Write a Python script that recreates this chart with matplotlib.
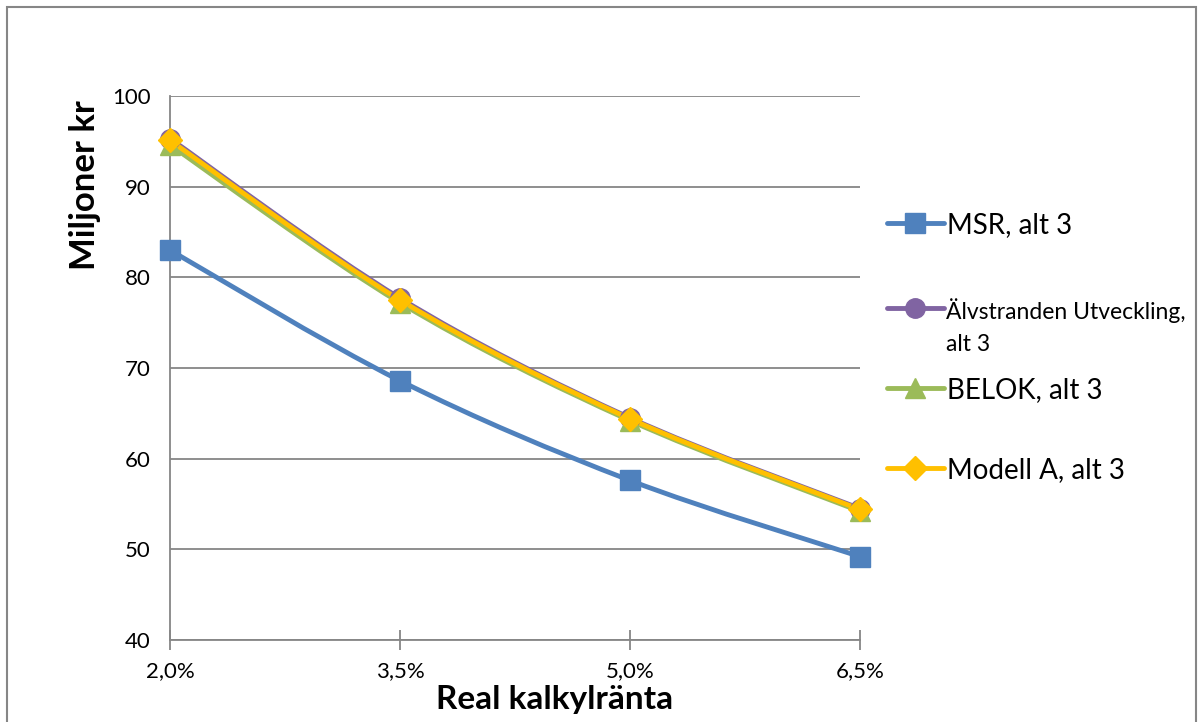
import numpy as np
import matplotlib
matplotlib.use("Agg")
import matplotlib.pyplot as plt
from matplotlib.path import Path
from matplotlib.patches import PathPatch, Rectangle
from matplotlib.lines import Line2D

plt.rcParams["font.family"] = ["Lato", "DejaVu Sans"]

# -----------------------------
# Data
# -----------------------------
x_labels = ["2,0%", "3,5%", "5,0%", "6,5%"]
msr = [83.0, 68.6, 57.6, 49.2]
alvstranden = [95.3, 77.7, 64.5, 54.5]
belok = [94.6, 77.2, 64.2, 54.2]
modell_a = [95.1, 77.5, 64.4, 54.4]

series = [
    ("MSR, alt 3", msr, "#4F81BD", "s", 14),
    ("Älvstranden Utveckling,\nalt 3", alvstranden, "#8064A2", "o", 14),
    ("BELOK, alt 3", belok, "#9BBB59", "^", 15),
    ("Modell A, alt 3", modell_a, "#FFC000", "D", 12),
]


# -----------------------------
# Smooth line (Catmull-Rom as cubic Bezier, like Excel)
# -----------------------------
def smooth_path(xs, ys):
    pts = np.column_stack([xs, ys]).astype(float)
    verts = [pts[0]]
    codes = [Path.MOVETO]
    n = len(pts)
    for i in range(n - 1):
        p0 = pts[i - 1] if i > 0 else pts[i]
        p1 = pts[i]
        p2 = pts[i + 1]
        p3 = pts[i + 2] if i + 2 < n else pts[i + 1]
        c1 = p1 + (p2 - p0) / 6.0
        c2 = p2 - (p3 - p1) / 6.0
        verts += [c1, c2, p2]
        codes += [Path.CURVE4] * 3
    return Path(verts, codes)


fig = plt.figure(figsize=(12.03, 7.22), dpi=100)
fig.patches.append(Rectangle((7 / 1203, -0.05), 1189 / 1203, 1.05 - 7 / 722,
                             transform=fig.transFigure, fill=False,
                             edgecolor="#868686", linewidth=1.5))

ax = fig.add_axes([170 / 1203, 1 - 640 / 722, 690 / 1203, 544 / 722])
xs = np.arange(len(x_labels))

for label, vals, color, marker, ms in series:
    patch = PathPatch(smooth_path(xs, vals), facecolor="none", edgecolor=color,
                      linewidth=3.5, capstyle="round", joinstyle="round",
                      zorder=3)
    ax.add_patch(patch)
    ax.plot(xs, vals, linestyle="none", marker=marker, markersize=ms,
            color=color, markeredgecolor=color, zorder=4, clip_on=False)

ax.set_xlim(0, 3)
ax.set_ylim(40, 100)
ax.set_yticks(range(40, 101, 10))
ax.set_xticks(xs)
ax.set_xticklabels(x_labels)
ax.yaxis.grid(True, color="#868686", linewidth=1.3)
ax.set_axisbelow(True)

for side in ["top", "right"]:
    ax.spines[side].set_visible(False)
for side in ["left", "bottom"]:
    ax.spines[side].set_color("#868686")
    ax.spines[side].set_linewidth(1.3)

ax.tick_params(axis="y", length=0, pad=14, labelsize=16)
ax.tick_params(axis="x", direction="inout", length=14, width=1.3,
               color="#868686", pad=8, labelsize=16)

ax.set_xlabel("Real kalkylränta", fontsize=24, fontweight="bold", va="center")
ax.xaxis.set_label_coords(385 / 690, -60 / 544)
ax.set_ylabel("Miljoner kr", fontsize=25, fontweight="bold", va="center")
ax.yaxis.set_label_coords(-85 / 690, 455 / 544)

# legend entries placed one by one (Excel spacing)
legend_y = [225, 327, 390, 470]
legend_fs = [20, 16.5, 20, 20]
for (label, vals, color, marker, ms), ypix, fs in zip(series, legend_y, legend_fs):
    handle = Line2D([], [], color=color, linewidth=3.5, marker=marker,
                    markersize=ms, solid_capstyle="round")
    multi = "\n" in label
    leg = fig.legend([handle], [label], loc="center left",
                     bbox_to_anchor=(887 / 1203, 1 - ypix / 722),
                     frameon=False, fontsize=fs, handlelength=57 / (fs * 1.389),
                     handleheight=1.25 if multi else 0.7,
                     handletextpad=0.1, borderpad=0, borderaxespad=0)
    if multi:
        for t in leg.get_texts():
            t.set_linespacing(1.65)
        # put the handle next to the first text line, as Excel does
        row = leg._legend_handle_box.get_children()[0].get_children()[0]
        row.align = "top"

fig.savefig("out.png", dpi=100)
